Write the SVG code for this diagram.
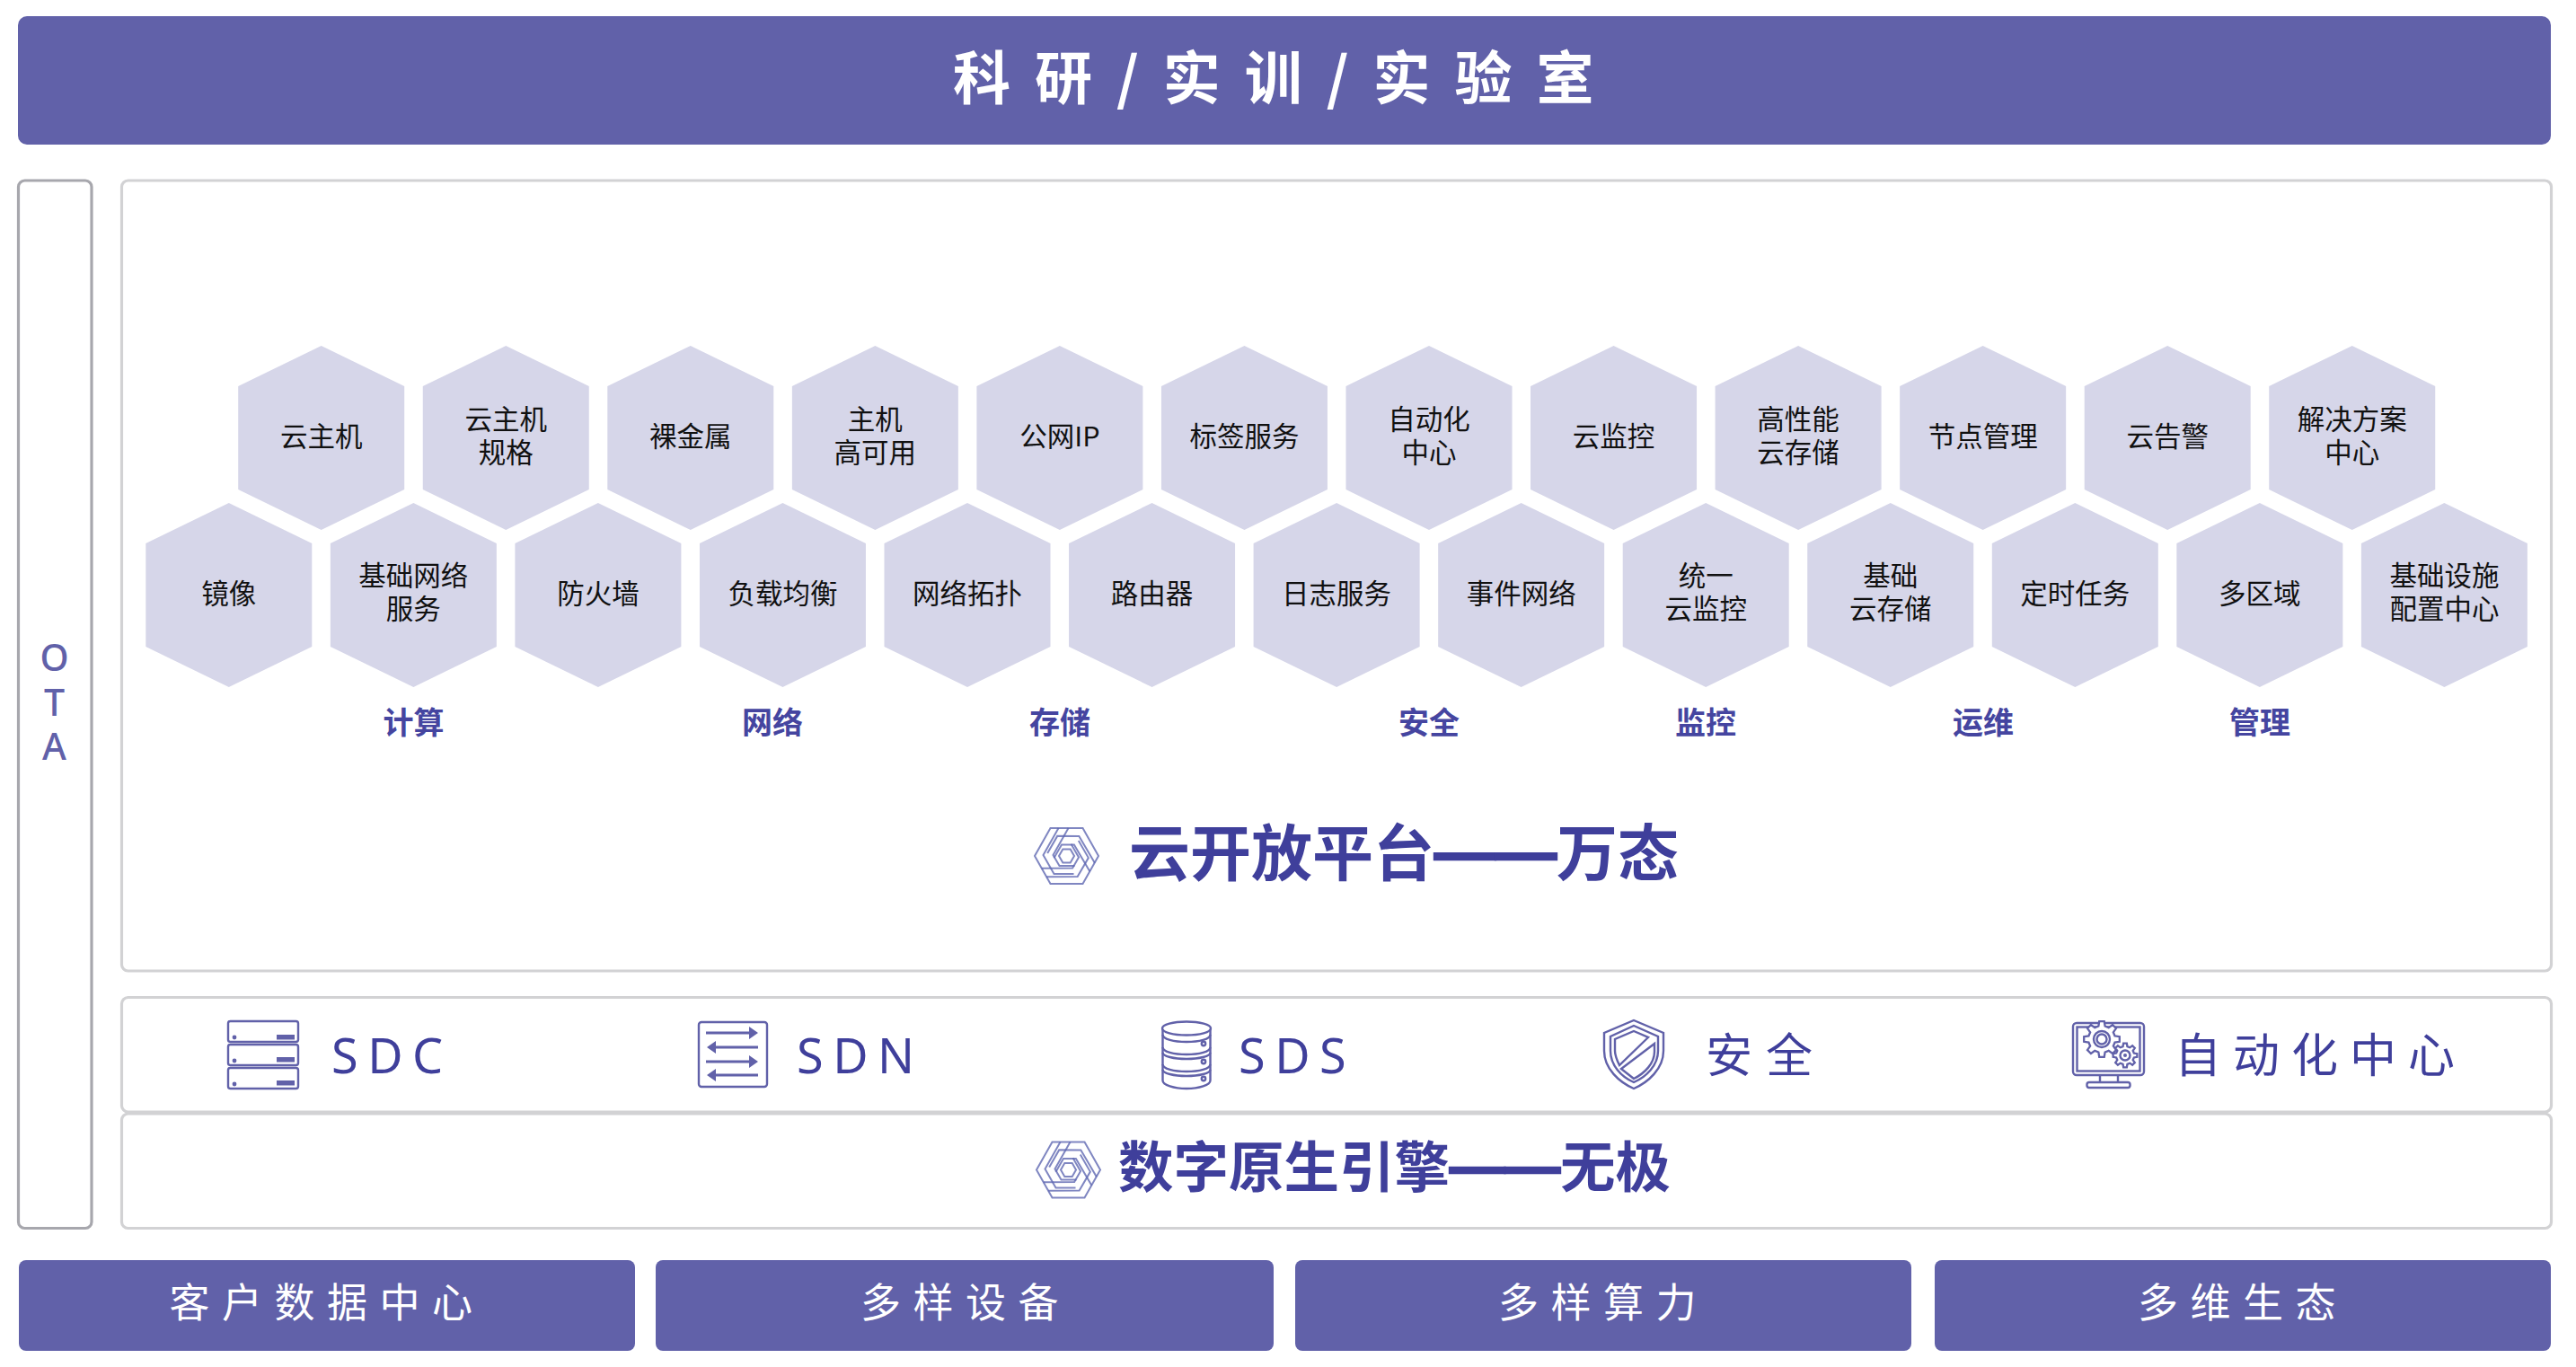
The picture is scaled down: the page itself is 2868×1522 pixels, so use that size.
<svg xmlns="http://www.w3.org/2000/svg" width="2868" height="1522" viewBox="0 0 2868 1522">
<style>
text{font-family:"Noto Sans CJK SC","Noto Sans",sans-serif}
.band{fill:#6161a9}
.box{fill:#fff;stroke:#d2d2d4;stroke-width:3.2}
.ota{fill:#fff;stroke:#a7a7ad;stroke-width:3.2}
.hex{fill:#d6d6e9}
.ht{font-size:30.5px;fill:#111;text-anchor:middle}
.cat{font-size:34px;font-weight:700;fill:#4545a0;text-anchor:middle}
.bt{font-size:45px;fill:#fff;text-anchor:middle;letter-spacing:13.5px}
.svc{font-size:54px;fill:#3f3f9b;letter-spacing:10.5px;font-family:"Noto Sans",sans-serif}
.svcz{font-size:52px;fill:#3f3f9b}
.ttl{font-weight:700;fill:#3f3f9b}
.dash{font-family:"Liberation Sans",sans-serif;font-weight:700;stroke:#3f3f9b;stroke-width:2.4}
.ic{fill:none;stroke:#6161a9;stroke-width:2.4}
.icf{fill:#6161a9}
.lg{fill:none;stroke:#5f68b2;stroke-width:2;stroke-opacity:.8}
.otat{font-size:41px;font-weight:500;fill:#6161a9;text-anchor:middle;font-family:"Noto Sans",sans-serif}
</style>
<defs>
<polygon id="hexa" class="hex" points="0,-102.5 92.5,-57.5 92.5,57.5 0,102.5 -92.5,57.5 -92.5,-57.5"/>
<g id="logo">
<polygon class="lg" points="-35.5,0 -18,-31 18,-31 35.5,0 18,31 -18,31"/>
<polygon class="lg" points="-8.5,0 -4.2,-7.5 4.2,-7.5 8.5,0 4.2,7.5 -4.2,7.5"/>
<g id="arm"><path class="lg" d="M-9,-31 L-26,-1 L-14,20 L8,20"/><path class="lg" d="M2,-31 L-15,-1 L-8,11 L9,11"/></g>
<use href="#arm" transform="rotate(120)"/>
<use href="#arm" transform="rotate(240)"/>
</g>
<path id="gear" d="M.728,-.181L.99,-.139L.99,.139L.728,.181L.643,.386L.799,.602L.602,.799L.386,.643L.181,.728L.139,.99L-.139,.99L-.181,.728L-.386,.643L-.602,.799L-.799,.602L-.643,.386L-.728,.181L-.99,.139L-.99,-.139L-.728,-.181L-.643,-.386L-.799,-.602L-.602,-.799L-.386,-.643L-.181,-.728L-.139,-.99L.139,-.99L.181,-.728L.386,-.643L.602,-.799L.799,-.602L.643,-.386Z"/>
</defs>
<rect width="2868" height="1522" fill="#fff"/>
<g id="connectors"/>
<g id="banner-top"><rect class="band" x="20" y="18" width="2820" height="143" rx="10"/><text x="1061" y="109.5" font-size="64" font-weight="700" fill="#fff" letter-spacing="27">科研/实训/实验室</text></g>
<g id="ota"><rect class="ota" x="20.5" y="201" width="81.5" height="1166.5" rx="7"/>
<text class="otat" x="60.5" y="747">O</text>
<text class="otat" x="60.5" y="796.5">T</text>
<text class="otat" x="60.5" y="846">A</text></g>
<g id="platform"><rect class="box" x="135.5" y="201" width="2705" height="880" rx="7"/></g>
<g id="row-services"><rect class="box" x="135.5" y="1110.5" width="2705" height="127.5" rx="7"/></g>
<g id="row-engine"><rect class="box" x="135.5" y="1240" width="2705" height="127.5" rx="7"/></g>

<g id="h01" transform="translate(357.7,487.5)"><use href="#hexa"/><text class="ht" y="9">云主机</text></g>
<g id="h02" transform="translate(563.25,487.5)"><use href="#hexa"/><text class="ht" y="-9.5">云主机</text><text class="ht" y="27">规格</text></g>
<g id="h03" transform="translate(768.8,487.5)"><use href="#hexa"/><text class="ht" y="9">裸金属</text></g>
<g id="h04" transform="translate(974.35,487.5)"><use href="#hexa"/><text class="ht" y="-9.5">主机</text><text class="ht" y="27">高可用</text></g>
<g id="h05" transform="translate(1179.9,487.5)"><use href="#hexa"/><text class="ht" y="9">公网IP</text></g>
<g id="h06" transform="translate(1385.45,487.5)"><use href="#hexa"/><text class="ht" y="9">标签服务</text></g>
<g id="h07" transform="translate(1591,487.5)"><use href="#hexa"/><text class="ht" y="-9.5">自动化</text><text class="ht" y="27">中心</text></g>
<g id="h08" transform="translate(1796.55,487.5)"><use href="#hexa"/><text class="ht" y="9">云监控</text></g>
<g id="h09" transform="translate(2002.1,487.5)"><use href="#hexa"/><text class="ht" y="-9.5">高性能</text><text class="ht" y="27">云存储</text></g>
<g id="h10" transform="translate(2207.65,487.5)"><use href="#hexa"/><text class="ht" y="9">节点管理</text></g>
<g id="h11" transform="translate(2413.2,487.5)"><use href="#hexa"/><text class="ht" y="9">云告警</text></g>
<g id="h12" transform="translate(2618.75,487.5)"><use href="#hexa"/><text class="ht" y="-9.5">解决方案</text><text class="ht" y="27">中心</text></g>

<g id="h13" transform="translate(254.8,662.5)"><use href="#hexa"/><text class="ht" y="9">镜像</text></g>
<g id="h14" transform="translate(460.35,662.5)"><use href="#hexa"/><text class="ht" y="-10.5">基础网络</text><text class="ht" y="26.5">服务</text></g>
<g id="h15" transform="translate(665.9,662.5)"><use href="#hexa"/><text class="ht" y="9">防火墙</text></g>
<g id="h16" transform="translate(871.45,662.5)"><use href="#hexa"/><text class="ht" y="9">负载均衡</text></g>
<g id="h17" transform="translate(1077,662.5)"><use href="#hexa"/><text class="ht" y="9">网络拓扑</text></g>
<g id="h18" transform="translate(1282.55,662.5)"><use href="#hexa"/><text class="ht" y="9">路由器</text></g>
<g id="h19" transform="translate(1488.1,662.5)"><use href="#hexa"/><text class="ht" y="9">日志服务</text></g>
<g id="h20" transform="translate(1693.65,662.5)"><use href="#hexa"/><text class="ht" y="9">事件网络</text></g>
<g id="h21" transform="translate(1899.2,662.5)"><use href="#hexa"/><text class="ht" y="-10.5">统一</text><text class="ht" y="26.5">云监控</text></g>
<g id="h22" transform="translate(2104.75,662.5)"><use href="#hexa"/><text class="ht" y="-10.5">基础</text><text class="ht" y="26.5">云存储</text></g>
<g id="h23" transform="translate(2310.3,662.5)"><use href="#hexa"/><text class="ht" y="9">定时任务</text></g>
<g id="h24" transform="translate(2515.85,662.5)"><use href="#hexa"/><text class="ht" y="9">多区域</text></g>
<g id="h25" transform="translate(2721.4,662.5)"><use href="#hexa"/><text class="ht" y="-10.5">基础设施</text><text class="ht" y="26.5">配置中心</text></g>

<g id="categories">
<text class="cat" x="460.5" y="817">计算</text>
<text class="cat" x="860" y="817">网络</text>
<text class="cat" x="1180" y="817">存储</text>
<text class="cat" x="1591" y="817">安全</text>
<text class="cat" x="1899" y="817">监控</text>
<text class="cat" x="2208" y="817">运维</text>
<text class="cat" x="2516" y="817">管理</text>
</g>

<g id="title-platform"><use href="#logo" transform="translate(1187.5,953)"/><text class="ttl" x="1257" y="975" font-size="68">云开放平台<tspan class="dash" dy="-3">——</tspan><tspan dy="3">万态</tspan></text></g>
<g id="title-engine"><use href="#logo" transform="translate(1189.5,1302.5)"/><text class="ttl" x="1245" y="1322" font-size="61.5">数字原生引擎<tspan class="dash" dy="-3">——</tspan><tspan dy="3">无极</tspan></text></g>

<g id="sdc">
<rect class="ic" x="254" y="1137" width="78" height="23" rx="2.5"/><rect class="ic" x="254" y="1163" width="78" height="23" rx="2.5"/><rect class="ic" x="254" y="1189" width="78" height="23" rx="2.5"/>
<circle class="icf" cx="261" cy="1155" r="2.4"/><circle class="icf" cx="261" cy="1181" r="2.4"/><circle class="icf" cx="261" cy="1207" r="2.4"/>
<rect class="icf" x="308" y="1152" width="20" height="5.5"/><rect class="icf" x="308" y="1177" width="20" height="5.5"/><rect class="icf" x="308" y="1203" width="20" height="5.5"/>
<text class="svc" x="369" y="1195">SDC</text></g>

<g id="sdn">
<rect class="ic" x="778" y="1138" width="76" height="72" rx="3"/>
<path class="ic" style="stroke-width:3" d="M786,1150H836M795,1166H844M786,1182H836M795,1197H844"/>
<path class="icf" d="M834,1143L844,1150L834,1157ZM797,1159L787,1166L797,1173ZM834,1175L844,1182L834,1189ZM797,1190L787,1197L797,1204Z"/>
<text class="svc" x="887" y="1195">SDN</text></g>

<g id="sds">
<ellipse class="ic" cx="1321" cy="1145" rx="27" ry="7.5"/>
<path class="ic" d="M1294.5,1146V1203C1294.5,1208 1307,1212 1321,1212C1335,1212 1347.5,1208 1347.5,1203V1146"/>
<path class="ic" d="M1294.5,1152C1294.5,1157 1307,1160 1321,1160C1335,1160 1347.5,1157 1347.5,1152M1294.5,1166C1294.5,1171 1307,1174 1321,1174C1335,1174 1347.5,1171 1347.5,1166M1294.5,1172C1294.5,1176 1307,1179 1321,1179C1335,1179 1347.5,1176 1347.5,1172M1294.5,1185C1294.5,1190 1307,1193 1321,1193C1335,1193 1347.5,1190 1347.5,1185M1294.5,1191C1294.5,1195 1307,1198 1321,1198C1335,1198 1347.5,1195 1347.5,1191"/>
<circle class="ic" cx="1340" cy="1162" r="2.2"/><circle class="ic" cx="1340" cy="1182" r="2.2"/><circle class="ic" cx="1340" cy="1201" r="2.2"/>
<text class="svc" x="1379" y="1195">SDS</text></g>

<g id="security">
<path class="ic" d="M1819,1136L1852,1150V1170C1852,1190 1835,1205 1819,1212C1803,1205 1786,1190 1786,1170V1150Z"/>
<path class="ic" d="M1819,1142L1846,1154V1170C1846,1186 1833,1199 1819,1205C1805,1199 1793,1186 1793,1170V1154Z"/>
<path class="ic" d="M1819,1148L1835,1155L1803,1186C1800,1180 1798,1175 1798,1170V1157Z"/>
<path class="ic" d="M1842,1162V1171C1842,1184 1831,1195 1819,1201L1805,1190Z"/>
<text class="svcz" x="1899" y="1194" letter-spacing="15">安全</text></g>

<g id="automation">
<rect class="ic" x="2308" y="1139" width="79" height="58" rx="4"/>
<rect class="ic" x="2312.5" y="1143.5" width="70" height="49"/>
<path class="ic" d="M2338,1197V1205M2358,1197V1205"/>
<rect class="ic" x="2323.5" y="1205" width="48" height="6" rx="2.5"/>
<use href="#gear" transform="translate(2340,1157) scale(20)" fill="#fff" stroke="#6161a9" stroke-width=".115"/>
<circle class="ic" cx="2340" cy="1157" r="9"/><circle class="ic" cx="2340" cy="1157" r="5.5"/>
<use href="#gear" transform="translate(2366,1175) scale(13.5)" fill="#fff" stroke="#6161a9" stroke-width=".17"/>
<circle class="ic" cx="2366" cy="1175" r="5.5"/><circle class="icf" cx="2366" cy="1175" r="2"/>
<text class="svcz" x="2421" y="1194" letter-spacing="13">自动化中心</text></g>

<g id="b1"><rect class="band" x="21" y="1403" width="686" height="101" rx="8"/><text class="bt" x="364" y="1467">客户数据中心</text></g>
<g id="b2"><rect class="band" x="730" y="1403" width="688" height="101" rx="8"/><text class="bt" x="1075" y="1467">多样设备</text></g>
<g id="b3"><rect class="band" x="1442" y="1403" width="686" height="101" rx="8"/><text class="bt" x="1785" y="1467">多样算力</text></g>
<g id="b4"><rect class="band" x="2154" y="1403" width="686" height="101" rx="8"/><text class="bt" x="2497" y="1467">多维生态</text></g>
</svg>
